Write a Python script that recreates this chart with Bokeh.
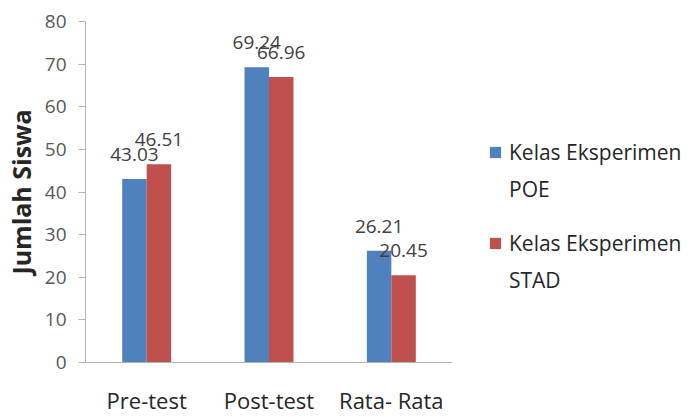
from bokeh.plotting import figure
from bokeh.layouts import row
from bokeh.models import (ColumnDataSource, FactorRange, Range1d, LabelSet, Legend,
                          LegendItem, SingleIntervalTicker)
from bokeh.core.properties import value
from bokeh.transform import dodge
from bokeh.embed import file_html
from bokeh.resources import INLINE

categories = ["Pre-test", "Post-test", "Rata- Rata"]
poe = [43.03, 69.24, 26.21]
stad = [46.51, 66.96, 20.45]
series_names = ["Kelas Eksperimen", "Kelas Eksperimen"]
series_suffix = ["POE", "STAD"]
y_ticks_interval = 10

BLUE = "#4F81BD"
RED = "#C0504D"
FONT = "Open Sans"

src = ColumnDataSource(dict(
    cat=categories, poe=poe, stad=stad,
    poe_lbl=[f"{v:.2f}" for v in poe],
    stad_lbl=[f"{v:.2f}" for v in stad],
))

p = figure(width=452, height=417, x_range=FactorRange(factors=categories, range_padding=0),
           y_range=Range1d(0, 80), output_backend="svg", toolbar_location=None,
           min_border_left=85, min_border_top=21, min_border_bottom=54, min_border_right=0)

p.outline_line_color = None
p.xgrid.grid_line_color = None
p.ygrid.grid_line_color = None
p.background_fill_color = "white"

p.vbar(x=dodge("cat", -0.1, range=p.x_range), top="poe", width=0.2, source=src,
       fill_color=BLUE, line_color=None)
p.vbar(x=dodge("cat", 0.1, range=p.x_range), top="stad", width=0.2, source=src,
       fill_color=RED, line_color=None)

for col, lbl, off in (("poe", "poe_lbl", -0.1), ("stad", "stad_lbl", 0.1)):
    ls = LabelSet(x=dodge("cat", off, range=p.x_range), y=col, text=lbl, source=src,
                  text_align="center", text_baseline="alphabetic", y_offset=18,
                  text_font=value(FONT), text_font_size="19px", text_color="#404040")
    p.add_layout(ls)

# y axis
ya = p.yaxis[0]
ya.ticker = SingleIntervalTicker(interval=y_ticks_interval)
ya.minor_tick_line_color = None
ya.major_tick_out = 7
ya.major_tick_in = 0
ya.major_tick_line_color = "#B3B3B3"
ya.axis_line_color = "#B3B3B3"
ya.major_label_standoff = 12
ya.major_label_text_font = FONT
ya.major_label_text_font_size = "19px"
ya.major_label_text_color = "#595959"
ya.axis_label = "Jumlah Siswa"
ya.axis_label_text_font = FONT
ya.axis_label_text_font_size = "25px"
ya.axis_label_text_font_style = "bold"
ya.axis_label_text_color = "#262626"
ya.axis_label_standoff = 4

xa = p.xaxis[0]
xa.major_tick_line_color = None
xa.minor_tick_line_color = None
xa.axis_line_color = "#B3B3B3"
xa.major_label_standoff = 16
xa.major_label_text_font = FONT
xa.major_label_text_font_size = "22px"
xa.major_label_text_color = "#262626"

# legend panel (separate figure to the right; its frame is aligned with the main frame)
lf = figure(width=242, height=417, x_range=Range1d(0, 1), y_range=Range1d(0, 1),
            output_backend="svg", toolbar_location=None,
            min_border_left=0, min_border_right=0, min_border_top=0, min_border_bottom=0)
lf.axis.visible = False
lf.grid.visible = False
lf.outline_line_color = None
# legend-only renderers, placed outside the visible range
lr1 = lf.vbar(x=[5], top=[1], width=0.1, fill_color=BLUE, line_color=None)
lr2 = lf.vbar(x=[5], top=[1], width=0.1, fill_color=RED, line_color=None)
blank = lf.vbar(x=[5], top=[1], width=0.1, fill_alpha=0, line_alpha=0)

def make_legend(renderer, name, suffix, loc):
    leg = Legend(items=[LegendItem(label=name, renderers=[renderer]),
                        LegendItem(label=suffix, renderers=[blank])],
                 location=loc, padding=0, margin=0, spacing=7,
                 glyph_width=14, glyph_height=14, label_standoff=7, label_height=30,
                 label_text_font=FONT, label_text_font_size="21px",
                 label_text_color="#262626",
                 border_line_color=None, background_fill_alpha=0)
    lf.add_layout(leg, "center")

make_legend(lr1, series_names[0], series_suffix[0], (36, 158))
make_legend(lr2, series_names[1], series_suffix[1], (36, 67))

layout = row(p, lf, spacing=0)
open("out.html", "w").write(file_html(layout, INLINE))
